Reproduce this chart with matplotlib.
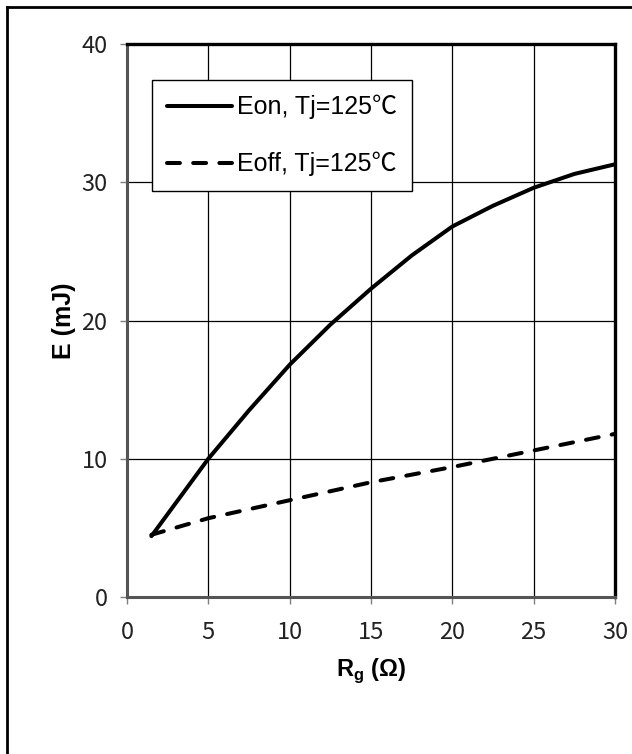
import matplotlib
matplotlib.use("Agg")
import matplotlib.pyplot as plt
from matplotlib.lines import Line2D

# values
rg_on = [1.5, 2.5, 5, 7.5, 10, 12.5, 15, 17.5, 20, 22.5, 25, 27.5, 30]
e_on = [4.4, 6.0, 10.0, 13.5, 16.8, 19.7, 22.3, 24.7, 26.8, 28.3, 29.6, 30.6, 31.3]
rg_off = [1.5, 5, 10, 15, 20, 25, 30]
e_off = [4.5, 5.7, 7.0, 8.3, 9.4, 10.6, 11.8]
labels = ["Eon, Tj=125\u2103", "Eoff, Tj=125\u2103"]
xticks = [0, 5, 10, 15, 20, 25, 30]
yticks = [0, 10, 20, 30, 40]

TICKF = ["Noto Sans CJK SC", "DejaVu Sans"]
LEGF = ["Liberation Sans", "Noto Sans CJK SC", "DejaVu Sans"]
BOLD = ["Liberation Sans", "DejaVu Sans"]

fig = plt.figure(figsize=(6.32, 7.54), dpi=100)
ax = fig.add_axes([127 / 632, 1 - 597 / 754, 488 / 632, 553 / 754])

ax.plot(rg_on, e_on, c="k", lw=2.9, solid_capstyle="round", solid_joinstyle="round",
        zorder=3, label=labels[0])
ax.plot(rg_off, e_off, c="k", lw=2.9, dashes=(3.2, 3.3), dash_capstyle="round",
        zorder=3, label=labels[1])

ax.set_xlim(0, 30); ax.set_ylim(0, 40)
ax.set_xticks(xticks); ax.set_yticks(yticks)
ax.grid(True, c="k", lw=0.9, zorder=1)
ax.set_axisbelow(True)
ax.tick_params(direction="out", length=5, width=1, color="0.5")
ax.tick_params(axis="x", pad=12)
ax.tick_params(axis="y", pad=9)
for t in ax.get_xticklabels() + ax.get_yticklabels():
    t.set_family(TICKF); t.set_fontsize(17); t.set_color("#222222")

for s in ("top", "right"):
    ax.spines[s].set_linewidth(2.4); ax.spines[s].set_color("k")
for s in ("left", "bottom"):
    ax.spines[s].set_linewidth(2.2); ax.spines[s].set_color("#555555")

ax.set_xlabel("R$_\\mathregular{g}$ (\u03a9)", family=BOLD, fontweight="bold", fontsize=17,
              labelpad=9)
ax.set_ylabel("E (mJ)", family=BOLD, fontweight="bold", fontsize=18, labelpad=4)

leg = ax.legend(loc="upper left", bbox_to_anchor=(0.051, 0.935), frameon=True, fancybox=False,
                prop={"family": LEGF, "size": 18}, handlelength=2.6, handletextpad=0.2,
                labelspacing=1.3, borderpad=0.6, borderaxespad=0, framealpha=1)
leg.get_frame().set_edgecolor("k"); leg.get_frame().set_linewidth(1.0)

# outer frame (only top and left edges visible in the reference)
fig.add_artist(Line2D([7 / 632, 1], [1 - 7 / 754, 1 - 7 / 754], c="k", lw=2, transform=fig.transFigure))
fig.add_artist(Line2D([7 / 632, 7 / 632], [0, 1 - 7 / 754], c="k", lw=2, transform=fig.transFigure))

fig.savefig("out.png", dpi=100, facecolor="white")
